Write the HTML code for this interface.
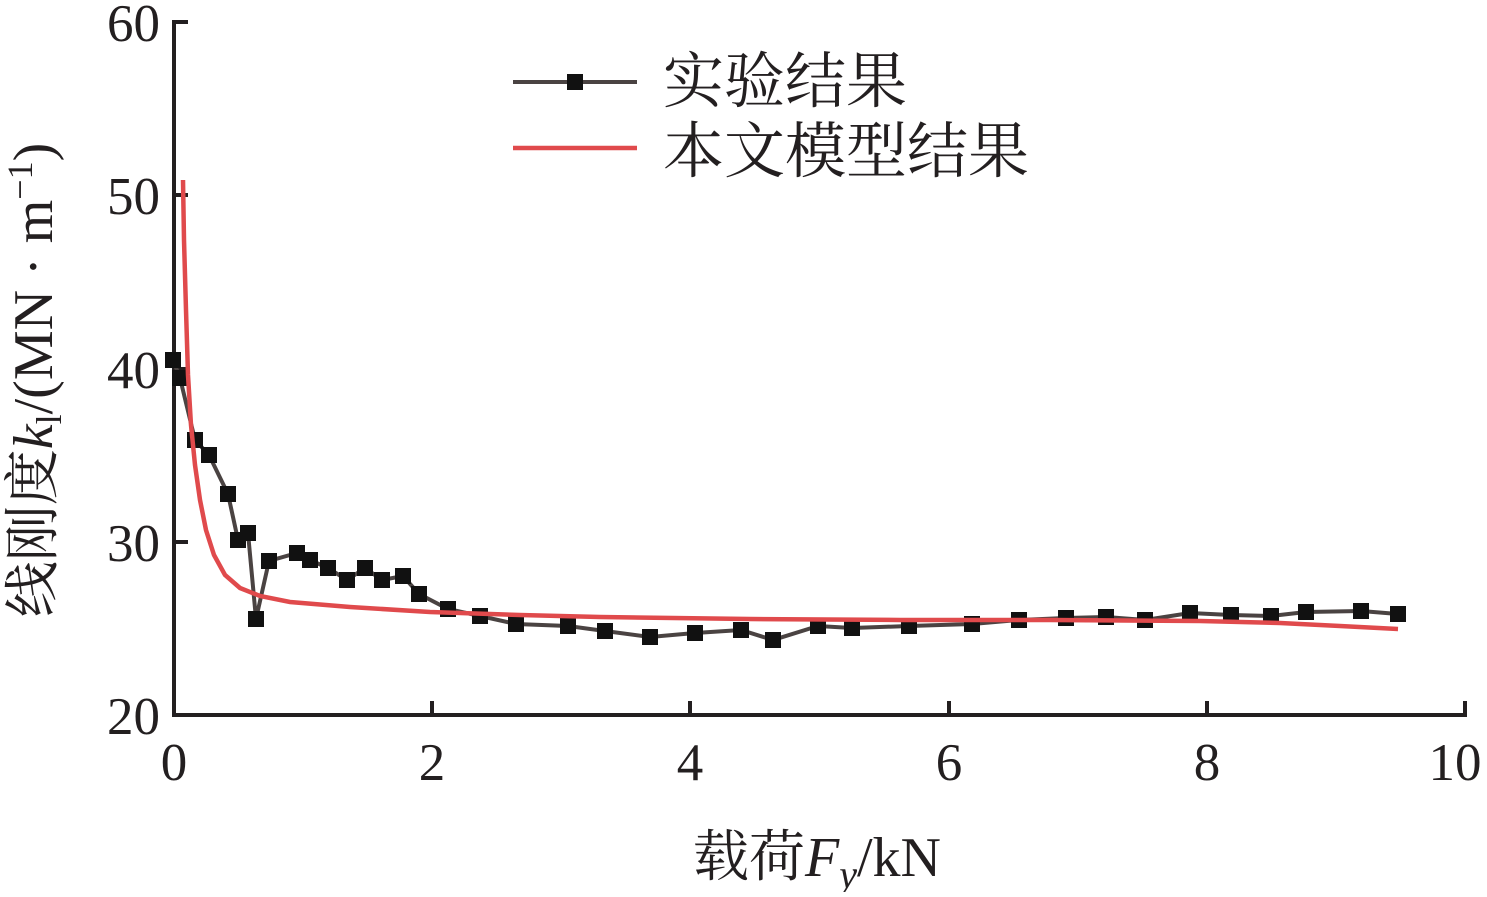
<!DOCTYPE html>
<html><head><meta charset="utf-8"><style>
html,body{margin:0;padding:0;background:#fff;}
svg text{font-family:"Liberation Serif","Noto Serif CJK SC",serif;fill:#231f20;}
</style></head><body>
<svg width="1487" height="892" viewBox="0 0 1487 892" xmlns="http://www.w3.org/2000/svg">
<g stroke="#231f20" stroke-width="4" fill="none">
<line x1="174" y1="20" x2="174" y2="717"/>
<line x1="172" y1="715" x2="1467" y2="715"/>
<line x1="174" y1="22" x2="188" y2="22"/>
<line x1="174" y1="195" x2="188" y2="195"/>
<line x1="174" y1="369" x2="188" y2="369"/>
<line x1="174" y1="542" x2="188" y2="542"/>
<line x1="432" y1="715" x2="432" y2="701"/>
<line x1="690" y1="715" x2="690" y2="701"/>
<line x1="949" y1="715" x2="949" y2="701"/>
<line x1="1207" y1="715" x2="1207" y2="701"/>
<line x1="1465" y1="715" x2="1465" y2="701"/>
</g>
<g font-size="53" text-anchor="end">
<text x="160" y="41">60</text><text x="160" y="214">50</text><text x="160" y="388">40</text><text x="160" y="561">30</text><text x="160" y="734">20</text>
</g>
<g font-size="53" text-anchor="middle">
<text x="174" y="780">0</text><text x="432" y="780">2</text><text x="690" y="780">4</text><text x="949" y="780">6</text><text x="1207" y="780">8</text><text x="1455" y="780">10</text>
</g>
<text x="817" y="876" font-size="56" text-anchor="middle">载荷<tspan font-style="italic">F<tspan font-size="40" dy="12">y</tspan></tspan><tspan dy="-12">/kN</tspan></text>
<text transform="translate(52,380) rotate(-90)" font-size="56" text-anchor="middle">线刚度<tspan font-style="italic">k</tspan><tspan font-size="36" dy="9">l</tspan><tspan dy="-9">/(MN · m</tspan><tspan font-size="36" dy="-20">−1</tspan><tspan dy="20">)</tspan></text>
<polyline fill="none" stroke="#4a4342" stroke-width="4" points="173,360 180,378 195,440 209,455 228,494 238,540 248,533 256,619 269,561 297,553 310,560 328,568 347,580 365,568 382,580 403,576 419,594 448,609 480,616 516,624 568,626 605,631 650,637 695,633 741,630 773,640 818,626 852,628 909,626 972,624 1019,620 1066,618 1106,617 1145,620 1190,613 1231,615 1271,616 1306,612 1361,611 1398,614"/>
<g fill="#111">
<rect x="165" y="352" width="16" height="16"/><rect x="172" y="370" width="16" height="16"/><rect x="187" y="432" width="16" height="16"/><rect x="201" y="447" width="16" height="16"/><rect x="220" y="486" width="16" height="16"/><rect x="230" y="532" width="16" height="16"/><rect x="240" y="525" width="16" height="16"/><rect x="248" y="611" width="16" height="16"/><rect x="261" y="553" width="16" height="16"/><rect x="289" y="545" width="16" height="16"/><rect x="302" y="552" width="16" height="16"/><rect x="320" y="560" width="16" height="16"/><rect x="339" y="572" width="16" height="16"/><rect x="357" y="560" width="16" height="16"/><rect x="374" y="572" width="16" height="16"/><rect x="395" y="568" width="16" height="16"/><rect x="411" y="586" width="16" height="16"/><rect x="440" y="601" width="16" height="16"/><rect x="472" y="608" width="16" height="16"/><rect x="508" y="616" width="16" height="16"/><rect x="560" y="618" width="16" height="16"/><rect x="597" y="623" width="16" height="16"/><rect x="642" y="629" width="16" height="16"/><rect x="687" y="625" width="16" height="16"/><rect x="733" y="622" width="16" height="16"/><rect x="765" y="632" width="16" height="16"/><rect x="810" y="618" width="16" height="16"/><rect x="844" y="620" width="16" height="16"/><rect x="901" y="618" width="16" height="16"/><rect x="964" y="616" width="16" height="16"/><rect x="1011" y="612" width="16" height="16"/><rect x="1058" y="610" width="16" height="16"/><rect x="1098" y="609" width="16" height="16"/><rect x="1137" y="612" width="16" height="16"/><rect x="1182" y="605" width="16" height="16"/><rect x="1223" y="607" width="16" height="16"/><rect x="1263" y="608" width="16" height="16"/><rect x="1298" y="604" width="16" height="16"/><rect x="1353" y="603" width="16" height="16"/><rect x="1390" y="606" width="16" height="16"/>
</g>
<polyline fill="none" stroke="#e04a4c" stroke-width="4.5" points="183,180 184,240 186,310 188,375 191,425 195,465 200,500 206,530 214,555 225,575 240,588 260,596 290,602 350,607 430,612 520,615 600,617 750,619 900,620 1050,620 1200,621 1280,623 1340,626 1398,629"/>
<line x1="513" y1="82" x2="637" y2="82" stroke="#4a4342" stroke-width="4"/>
<rect x="567" y="74" width="16" height="16" fill="#111"/>
<line x1="513" y1="148" x2="637" y2="148" stroke="#e04a4c" stroke-width="4.5"/>
<text x="663" y="102" font-size="61">实验结果</text>
<text x="663" y="172" font-size="61">本文模型结果</text>
</svg>
</body></html>
